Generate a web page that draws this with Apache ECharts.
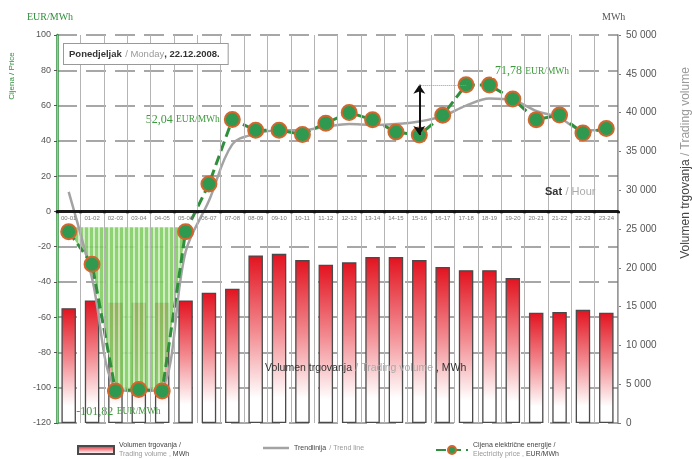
<!DOCTYPE html>
<html>
<head>
<meta charset="utf-8">
<script src="https://cdn.jsdelivr.net/npm/echarts@6/dist/echarts.min.js"></script>
<style>html,body{margin:0;padding:0;background:#fff;}#c{width:692px;height:459px;}</style>
</head>
<body>
<div id="c"></div>
<script>
// ---- data ----
const hours = ['00-01','01-02','02-03','03-04','04-05','05-06','06-07','07-08','08-09','09-10','10-11','11-12',
               '12-13','13-14','14-15','15-16','16-17','17-18','18-19','19-20','20-21','21-22','22-23','23-24'];
const volume = [14800, 15800, 15500, 15500, 15500, 15800, 16800, 17300, 21600, 21800, 21000, 20400,
                20700, 21400, 21400, 21000, 20100, 19700, 19700, 18700, 14200, 14300, 14600, 14200];
const price = [-11.5, -30, -101.82, -101, -101.82, -11.5, 15.5, 52.04, 46, 46, 43.6, 50,
               56, 52, 45, 43.3, 54.5, 71.78, 71.6, 63.7, 52, 54.6, 44.4, 47];
const trend = [11, -38, -100, -102, -100, -23, 6, 38, 44, 46, 46, 48,
               49.5, 49, 49.5, 51, 54, 60, 64, 63, 57, 53, 46, 46];
const priceTicks = {min: -120, max: 100, interval: 20};
const volumeTicks = {min: 0, max: 50000, interval: 5000};
const negativeHours = 6; // first hours with negative price (shaded)

const GREEN = '#2f8f3c';
const GRID = {left: 57, right: 74, top: 35, bottom: 36};
const H = 459;
const plotH = H - GRID.top - GRID.bottom;
// move the category axis up to the price zero line
const zeroOffset = plotH * (0 - priceTicks.min) / (priceTicks.max - priceTicks.min);

const chart = echarts.init(document.getElementById('c'));

// striped green pattern for the negative-price area
const pc = document.createElement('canvas');
pc.width = 5; pc.height = 4;
const pctx = pc.getContext('2d');
pctx.fillStyle = '#7fcc62'; pctx.fillRect(0, 0, 5, 4);
pctx.fillStyle = '#c8edb8'; pctx.fillRect(3, 0, 2, 4);

const fmtVol = v => v === 0 ? '0' : String(v).replace(/\B(?=(\d{3})+(?!\d))/g, ' ');
const rich = {v: {fontSize: 12, color: '#3b9a3b', fontFamily: 'Liberation Serif'},
              u: {fontSize: 9.5, color: '#3b9a3b', fontFamily: 'Liberation Serif'}};

const option = {
  animation: false,
  backgroundColor: '#fff',
  grid: Object.assign({containLabel: false}, GRID),
  xAxis: {
    type: 'category', data: hours, boundaryGap: true, position: 'bottom', offset: -zeroOffset,
    axisLine: {onZero: false, lineStyle: {color: '#1a1a1a', width: 3}},
    axisTick: {show: true, length: 2, lineStyle: {color: '#111', width: 3}},
    axisLabel: {interval: 0, fontSize: 6, color: '#777', margin: 4, fontFamily: 'Liberation Sans'},
    splitLine: {show: true, lineStyle: {color: '#b4b4b4', width: 1}},
    z: 5
  },
  yAxis: [
    {
      type: 'value', position: 'left', min: priceTicks.min, max: priceTicks.max, interval: priceTicks.interval,
      axisLine: {show: true, lineStyle: {color: GREEN, width: 2.5}},
      axisTick: {show: true, length: 3, lineStyle: {color: '#555'}},
      axisLabel: {fontSize: 9, color: '#555', margin: 6, fontFamily: 'Liberation Sans'},
      splitLine: {show: true, lineStyle: {color: '#8a8a8a', width: 1.6, type: [20, 9]}}
    },
    {
      type: 'value', position: 'right', min: volumeTicks.min, max: volumeTicks.max, interval: volumeTicks.interval,
      axisLine: {show: true, lineStyle: {color: '#777', width: 1.5}},
      axisTick: {show: true, length: 3, lineStyle: {color: '#777'}},
      axisLabel: {fontSize: 10, color: '#555', margin: 8, fontFamily: 'Liberation Sans', formatter: fmtVol},
      splitLine: {show: false}
    }
  ],
  legend: [
    {
      data: ['Volumen trgovanja'], left: 72, top: 437, icon: 'rect', itemWidth: 36, itemHeight: 8, itemGap: 6,
      formatter: () => '{a|Volumen trgovanja /}\n{b|Trading volume , }{a|MWh}',
      textStyle: {rich: {a: {fontSize: 7, color: '#444', lineHeight: 9}, b: {fontSize: 7, color: '#999', lineHeight: 9}}}
    },
    {
      data: [{name: 'Trendlinija', icon: 'rect'}], left: 258, top: 437, itemWidth: 26, itemHeight: 2.5,
      formatter: () => '{a|Trendlinija} {b|/ Trend line}',
      textStyle: {rich: {a: {fontSize: 7, color: '#444'}, b: {fontSize: 7, color: '#999'}}}
    },
    {
      data: ['Cijena'], left: 430, top: 437, itemWidth: 32, itemHeight: 10,
      formatter: () => '{a|Cijena električne energije /}\n{b|Electricity price , }{a|EUR/MWh}',
      textStyle: {rich: {a: {fontSize: 7, color: '#444', lineHeight: 9}, b: {fontSize: 7, color: '#999', lineHeight: 9}}}
    }
  ],
  graphic: [
    {type: 'text', left: 27, top: 12, style: {text: 'EUR/MWh', fill: GREEN, font: '10px "Liberation Serif"'}},
    {type: 'text', left: 602, top: 12, style: {text: 'MWh', fill: '#555', font: '10px "Liberation Serif"'}},
    {type: 'text', x: 12, y: 76, rotation: Math.PI / 2,
      style: {text: 'Cijena / Price', fill: GREEN, font: '8px "Liberation Sans"', align: 'center', verticalAlign: 'middle'}},
    {type: 'text', x: 686, y: 163, rotation: Math.PI / 2,
      style: {text: '{a|Volumen trgovanja} {b|/ Trading volume}', align: 'center', verticalAlign: 'middle',
        rich: {a: {fontSize: 12, fill: '#444', fontFamily: 'Liberation Sans'}, b: {fontSize: 12, fill: '#999', fontFamily: 'Liberation Sans'}}}},
    {type: 'text', left: 63, top: 43, z: 20,
      style: {text: '{a|Ponedjeljak} {b|/ Monday}{a|, 22.12.2008.}', backgroundColor: '#fff', borderColor: '#999', borderWidth: 1,
        padding: [4, 8, 4, 5],
        rich: {a: {fontSize: 9.5, fill: '#333', fontWeight: 'bold', fontFamily: 'Liberation Sans'},
               b: {fontSize: 9.5, fill: '#999', fontFamily: 'Liberation Sans'}}}},
    {type: 'text', left: 545, top: 186, z: 20,
      style: {text: '{a|Sat} {b|/ Hour}',
        rich: {a: {fontSize: 11, fill: '#333', fontWeight: 'bold', fontFamily: 'Liberation Sans'},
               b: {fontSize: 11, fill: '#aaa', fontFamily: 'Liberation Sans'}}}},
    {type: 'text', left: 265, top: 362, z: 20,
      style: {text: '{a|Volumen trgovanja} {b|/ Trading volume}{a| , MWh}',
        rich: {a: {fontSize: 10.5, fill: '#333', fontFamily: 'Liberation Sans'},
               b: {fontSize: 10.5, fill: '#aaa', fontFamily: 'Liberation Sans'}}}}
  ],
  series: [
    {
      name: 'Volumen trgovanja', type: 'bar', yAxisIndex: 1, data: volume, barWidth: '62%', z: 1,
      itemStyle: {
        color: new echarts.graphic.LinearGradient(0, 0, 0, 1, [
          {offset: 0, color: '#e2131f'}, {offset: 0.45, color: '#f28a90'}, {offset: 0.85, color: '#ffffff'}, {offset: 1, color: '#ffffff'}]),
        borderColor: '#4a4a4a', borderWidth: 1.3
      }
    },
    {
      name: 'negArea', type: 'line', yAxisIndex: 0, z: 2, silent: true, symbol: 'none',
      data: price.map((v, i) => i < negativeHours ? v : '-'),
      lineStyle: {opacity: 0, width: 0},
      areaStyle: {origin: -9, color: {image: pc, repeat: 'repeat'}, opacity: 0.88}
    },
    {
      name: 'Trendlinija', type: 'line', yAxisIndex: 0, data: trend, smooth: 0.35, symbol: 'none', z: 3,
      lineStyle: {color: '#a3a3a3', width: 2.5}, itemStyle: {color: '#a3a3a3'}
    },
    {
      name: 'Cijena', type: 'line', yAxisIndex: 0, z: 4,
      symbol: 'circle', symbolSize: 15,
      lineStyle: {color: GREEN, width: 3, type: [10, 5]},
      itemStyle: {color: '#2f9a4f', borderColor: '#d2662e', borderWidth: 2},
      label: {show: false},
      data: price.map((v, i) => {
        if (i === 7) return {value: v, label: {show: true, position: 'left', distance: 4, formatter: '{v|52,04} {u|EUR/MWh}', rich}};
        if (i === 18) return {value: v, label: {show: true, position: 'right', offset: [-8, -14], distance: 2,
          backgroundColor: '#fff', padding: [1, 3], formatter: '{v|71,78} {u|EUR/MWh}', rich}};
        if (i === 2) return {value: v, label: {show: true, position: 'bottom', distance: 6, offset: [3, 0],
          formatter: '{v|-101,82} {u|EUR/MWh}', rich}};
        return v;
      }),
      markLine: {
        silent: true, symbol: ['arrow', 'arrow'], symbolSize: 9, label: {show: false},
        lineStyle: {color: '#111', width: 2, type: 'solid'},
        data: [
          [{coord: [hours[15], price[15]]}, {coord: [hours[15], price[17]]}],
          [{coord: [hours[15], price[17]], symbol: 'none', lineStyle: {type: 'dotted', color: '#999', width: 1}},
           {coord: [hours[17], price[17]], symbol: 'none'}]
        ]
      }
    }
  ]
};
chart.setOption(option);
</script>
</body>
</html>
